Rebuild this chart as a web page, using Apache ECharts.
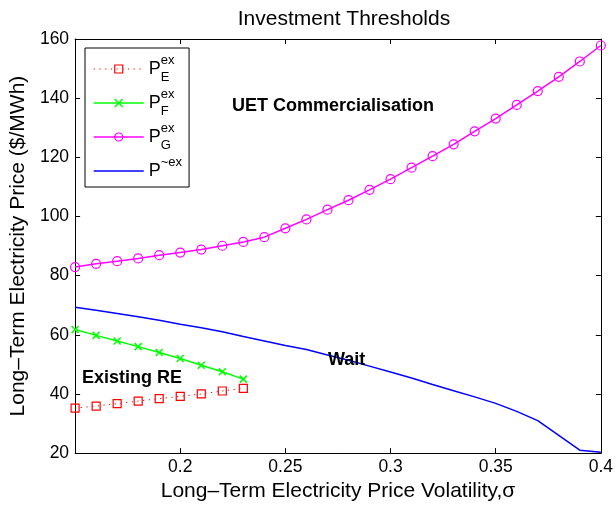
<!DOCTYPE html>
<html>
<head>
<meta charset="utf-8">
<script src="https://cdn.jsdelivr.net/npm/echarts@6/dist/echarts.min.js"></script>
<style>
  html, body { margin: 0; padding: 0; background: #fff; }
  #chart { width: 616px; height: 507px; }
</style>
</head>
<body>
<div id="chart"></div>
<script>
// Volatility grid (sigma) for the full study and for the existing-RE range
const sigma = [0.15, 0.16, 0.17, 0.18, 0.19, 0.20, 0.21, 0.22, 0.23, 0.24, 0.25, 0.26, 0.27,
               0.28, 0.29, 0.30, 0.31, 0.32, 0.33, 0.34, 0.35, 0.36, 0.37, 0.38, 0.39, 0.40];
const sigmaRE = [0.15, 0.16, 0.17, 0.18, 0.19, 0.20, 0.21, 0.22, 0.23];

// Investment thresholds ($/MWh)
const priceE = [35.2, 35.9, 36.7, 37.6, 38.4, 39.2, 40.0, 41.0, 41.9];
const priceF = [61.8, 59.8, 57.9, 56.0, 54.0, 52.0, 49.7, 47.5, 45.0];
const priceG = [82.9, 84.0, 84.9, 85.8, 86.9, 87.8, 88.8, 90.1, 91.4, 93.0, 96.0, 99.0, 102.3,
                105.5, 109.0, 112.6, 116.5, 120.4, 124.4, 128.8, 133.1, 137.7, 142.4, 147.2, 152.4, 157.8];
const priceTilde = [69.3, 68.3, 67.2, 66.1, 64.9, 63.6, 62.4, 61.0, 59.4, 57.9, 56.4, 55.0, 53.2,
                    51.4, 49.4, 47.4, 45.4, 43.2, 41.1, 39.0, 36.8, 34.1, 31.0, 26.0, 21.0, 20.3];

// Axis ticks
const xTickLabels = ['', '0.2', '0.25', '0.3', '0.35', '0.4'];
const yTickLabels = ['20', '40', '60', '80', '100', '120', '140', '160'];

const FONT = '"Liberation Sans", Arial, Helvetica, sans-serif';
const pairs = (xs, ys) => xs.map((x, i) => [x, ys[i]]);

const legendLabels = {
  PE: '{p|P}{sup|ex}{sub|E}',
  PF: '{p|P}{sup|ex}{sub|F}',
  PG: '{p|P}{sup|ex}{sub|G}',
  PT: '{p|P}{sup2|~ex}'
};

const chart = echarts.init(document.getElementById('chart'), null, { renderer: 'canvas' });

const frameAxis = (extra) => Object.assign({
  type: 'value',
  axisLine: { show: true, onZero: false, lineStyle: { color: '#000', width: 1 } },
  axisTick: { show: true, inside: true, length: 5, lineStyle: { color: '#000', width: 1 } },
  splitLine: { show: false },
  axisLabel: { show: false }
}, extra);

const xCommon = { min: 0.15, max: 0.4, interval: 0.05 };
const yCommon = { min: 20, max: 160, interval: 20 };

chart.setOption({
  animation: false,
  backgroundColor: '#fff',
  textStyle: { fontFamily: FONT },
  title: {
    text: 'Investment Thresholds',
    left: 339,
    textAlign: 'center',
    top: 4,
    textStyle: { fontFamily: FONT, fontSize: 21, fontWeight: 'normal', color: '#000' }
  },
  grid: { left: 74, right: 13.5, top: 39, bottom: 52, containLabel: false },
  xAxis: [
    frameAxis(Object.assign({}, xCommon, {
      position: 'bottom',
      name: 'Long\u2013Term Electricity Price Volatility,\u03c3',
      nameLocation: 'middle',
      nameGap: 25,
      nameTextStyle: { fontFamily: FONT, fontSize: 21, color: '#000' },
      axisLabel: {
        show: true, margin: 5, color: '#000', fontFamily: FONT, fontSize: 17.5,
        formatter: (v) => xTickLabels[Math.round((v - 0.15) / 0.05)] || ''
      }
    })),
    frameAxis(Object.assign({}, xCommon, { position: 'top' }))
  ],
  yAxis: [
    frameAxis(Object.assign({}, yCommon, {
      position: 'left',
      name: 'Long\u2013Term Electricity Price ($/MWh)',
      nameLocation: 'middle',
      nameGap: 38,
      nameTextStyle: { fontFamily: FONT, fontSize: 21, color: '#000' },
      axisLabel: {
        show: true, margin: 6, color: '#000', fontFamily: FONT, fontSize: 17.5,
        formatter: (v) => yTickLabels[Math.round((v - 20) / 20)]
      }
    })),
    frameAxis(Object.assign({}, yCommon, { position: 'right' }))
  ],
  legend: {
    orient: 'vertical',
    left: 85,
    top: 48,
    padding: [6, 7, 7, 8],
    itemWidth: 50,
    itemHeight: 10,
    itemGap: 4,
    borderColor: '#000',
    borderWidth: 1,
    backgroundColor: '#fff',
    selectedMode: false,
    formatter: (name) => legendLabels[name],
    textStyle: {
      fontFamily: FONT,
      color: '#000',
      rich: {
        p: { fontFamily: FONT, fontSize: 18, lineHeight: 30, verticalAlign: 'middle', color: '#000' },
        sup: { fontFamily: FONT, fontSize: 13, verticalAlign: 'top', width: 0, color: '#000' },
        sup2: { fontFamily: FONT, fontSize: 13, verticalAlign: 'top', color: '#000' },
        sub: { fontFamily: FONT, fontSize: 13, verticalAlign: 'bottom', color: '#000' }
      }
    },
    data: [
      { name: 'PE', itemStyle: { color: 'rgba(0,0,0,0)', borderColor: '#ff0000', borderWidth: 1.2 },
        lineStyle: { color: '#ff0000', width: 1, type: [1.2, 4.5] } },
      { name: 'PF', itemStyle: { color: 'rgba(0,0,0,0)', borderColor: '#00ff00', borderWidth: 1.5 },
        lineStyle: { color: '#00ff00', width: 1.5, type: 'solid' } },
      { name: 'PG', itemStyle: { color: 'rgba(0,0,0,0)', borderColor: '#ff00ff', borderWidth: 1.2 },
        lineStyle: { color: '#ff00ff', width: 1.5, type: 'solid' } },
      { name: 'PT', itemStyle: { color: 'rgba(0,0,0,0)', borderColor: 'rgba(0,0,0,0)', borderWidth: 0, opacity: 0 },
        lineStyle: { color: '#0000ff', width: 1.5, type: 'solid' } }
    ]
  },
  series: [
    {
      name: 'PE', type: 'line', color: '#ff0000',
      data: pairs(sigmaRE, priceE),
      symbol: 'rect', symbolSize: 8,
      lineStyle: { color: '#ff0000', width: 1, type: [1.2, 4.5] },
      itemStyle: { color: 'rgba(0,0,0,0)', borderColor: '#ff0000', borderWidth: 1.2 },
      emphasis: { disabled: true }, z: 3
    },
    {
      name: 'PF', type: 'line', color: '#00ff00',
      data: pairs(sigmaRE, priceF),
      symbol: 'path://M0,0L10,10M10,0L0,10', symbolSize: 7,
      lineStyle: { color: '#00ff00', width: 1.5 },
      itemStyle: { color: 'rgba(0,0,0,0)', borderColor: '#00ff00', borderWidth: 1.5 },
      emphasis: { disabled: true }, z: 3
    },
    {
      name: 'PG', type: 'line', color: '#ff00ff',
      data: pairs(sigma, priceG),
      symbol: 'circle', symbolSize: 9,
      lineStyle: { color: '#ff00ff', width: 1.5 },
      itemStyle: { color: 'rgba(0,0,0,0)', borderColor: '#ff00ff', borderWidth: 1.2 },
      emphasis: { disabled: true }, z: 3
    },
    {
      name: 'PT', type: 'line', color: '#0000ff',
      data: pairs(sigma, priceTilde),
      symbol: 'none', showSymbol: false,
      lineStyle: { color: '#0000ff', width: 1.5 },
      emphasis: { disabled: true }, z: 2
    }
  ],
  graphic: [
    { type: 'text', x: 232, y: 106, z: 100,
      style: { text: 'UET Commercialisation', font: 'bold 18px ' + FONT, fill: '#000', verticalAlign: 'middle' } },
    { type: 'text', x: 82, y: 378, z: 100,
      style: { text: 'Existing RE', font: 'bold 18px ' + FONT, fill: '#000', verticalAlign: 'middle' } },
    { type: 'text', x: 328, y: 360, z: 100,
      style: { text: 'Wait', font: 'bold 18px ' + FONT, fill: '#000', verticalAlign: 'middle' } }
  ]
});
</script>
</body>
</html>
